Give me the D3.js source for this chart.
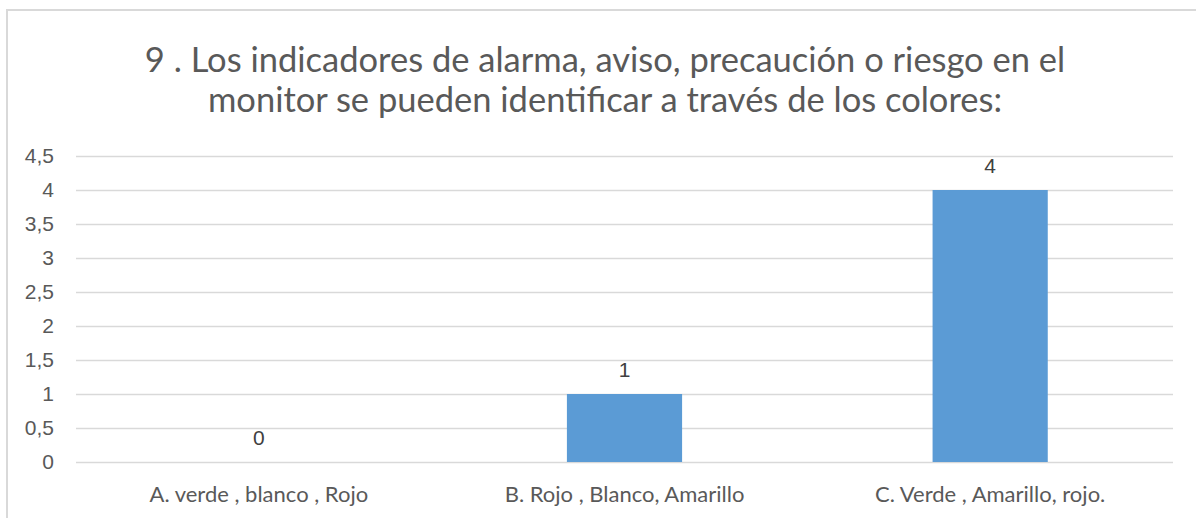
<!DOCTYPE html>
<html>
<head>
<meta charset="utf-8">
<script src="https://cdn.jsdelivr.net/npm/d3@7"></script>
<style>
  html, body { margin: 0; padding: 0; background: #fff; }
  svg { display: block; }
</style>
</head>
<body>
<div id="chart"></div>
<script>
const categories = ["A. verde , blanco , Rojo", "B. Rojo , Blanco, Amarillo", "C. Verde , Amarillo, rojo."];
const values = [0, 1, 4];
const yTicks = [0, 0.5, 1, 1.5, 2, 2.5, 3, 3.5, 4, 4.5];
const titleLines = ["9 . Los indicadores de alarma, aviso, precaución o riesgo en el",
                    "monitor se pueden identificar a través de los colores:"];

const width = 1196, height = 518;
let margin = ({top: 156, right: 23, bottom: 56, left: 76});
let fmt = d => String(d).replace(".", ",");

const svg = d3.select("#chart")
  .append("svg")
  .attr("width", width)
  .attr("height", height);

// chart frame (runs past the right and bottom edges in the reference)
svg.append("rect")
  .attr("x", 7).attr("y", 10)
  .attr("width", width + 20).attr("height", height + 20)
  .attr("fill", "#fff")
  .attr("stroke", "#d9d9d9")
  .attr("stroke-width", 2);

let x = d3.scaleBand()
  .domain(categories)
  .range([margin.left, width - margin.right])
  .paddingInner(0.685)
  .paddingOuter(0.3425);

let y = d3.scaleLinear()
  .domain([0, 4.5])
  .range([height - margin.bottom, margin.top]);

// title
svg.append("text")
  .attr("text-anchor", "middle")
  .attr("font-family", "Lato")
  .attr("font-size", "34.5px")
  .attr("fill", "#595959")
  .selectAll("tspan")
  .data(titleLines)
  .enter().append("tspan")
    .attr("x", 605)
    .attr("y", (d, i) => 72 + i * 40)
    .text(d => d);

// gridlines + y labels
let yAxis = g => g
  .attr("transform", `translate(${margin.left},0)`)
  .call(d3.axisLeft(y).tickValues(yTicks).tickFormat(fmt)
          .tickSize(-(width - margin.left - margin.right)).tickPadding(22))
  .call(g => g.select(".domain").remove())
  .call(g => g.selectAll(".tick line").attr("stroke", "#d9d9d9").attr("stroke-width", 1.5))
  .call(g => g.selectAll(".tick text")
    .attr("fill", "#595959")
    .attr("font-family", "Liberation Sans, Arial")
    .attr("font-size", "21px"));

svg.append("g").call(yAxis);

// bars
svg.append("g")
  .selectAll("rect")
  .data(values)
  .enter().append("rect")
    .attr("x", (d, i) => x(categories[i]))
    .attr("y", d => y(d))
    .attr("width", x.bandwidth())
    .attr("height", d => y(0) - y(d))
    .attr("fill", "#5b9bd5");

// data labels
svg.append("g")
  .selectAll("text")
  .data(values)
  .enter().append("text")
    .attr("x", (d, i) => x(categories[i]) + x.bandwidth() / 2)
    .attr("y", d => y(d) - 17)
    .attr("text-anchor", "middle")
    .attr("font-family", "Liberation Sans, Arial")
    .attr("font-size", "21px")
    .attr("fill", "#404040")
    .text(d => fmt(d));

// category labels
let xAxis = g => g
  .attr("transform", `translate(0,${height - margin.bottom})`)
  .call(d3.axisBottom(x).tickSize(0).tickPadding(24))
  .call(g => g.select(".domain").remove())
  .call(g => g.selectAll(".tick text")
    .attr("fill", "#595959")
    .attr("font-family", "Lato")
    .attr("font-size", "22px"));

svg.append("g").call(xAxis);
</script>
</body>
</html>
